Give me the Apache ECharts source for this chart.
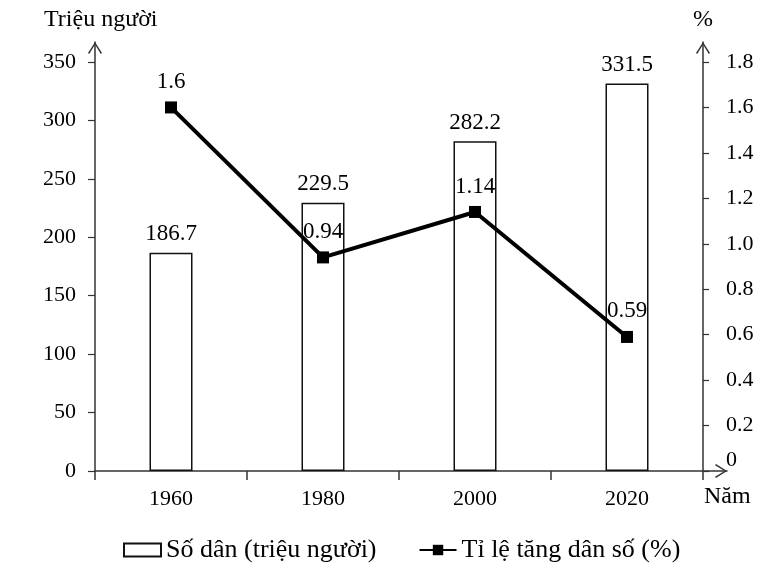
<!DOCTYPE html>
<html>
<head>
<meta charset="utf-8">
<script src="https://cdn.jsdelivr.net/npm/echarts@6/dist/echarts.min.js"></script>
<style>
	html, body { margin: 0; padding: 0; background: #fff; }
	#chart { width: 777px; height: 569px; }
</style>
</head>
<body>
<div id="chart"></div>
<script>
var years = ['1960', '1980', '2000', '2020'];
var soDan = [186.7, 229.5, 282.2, 331.5];
var tiLe = [1.6, 0.94, 1.14, 0.59];
var leftTicks = [0, 50, 100, 150, 200, 250, 300, 350];
var rightTicks = [0, 0.2, 0.4, 0.6, 0.8, 1.0, 1.2, 1.4, 1.6, 1.8];

var font = 'Liberation Serif';
var axisColor = '#333';
// mui ten ho (chevron) cho dau truc
var arrow = 'path://M7,0 L14,11 L12.8,12 L7,2.4 L1.2,12 L0,11 Z';

var myChart = echarts.init(document.getElementById('chart'));
myChart.setOption({
	animation: false,
	textStyle: { fontFamily: font, color: '#000' },
	title: [
		{ text: 'Triệu người', left: 44, top: 8, padding: 0,
			textStyle: { fontFamily: font, fontSize: 24, fontWeight: 'normal', color: '#000' } },
		{ text: '%', left: 693, top: 8, padding: 0,
			textStyle: { fontFamily: font, fontSize: 24, fontWeight: 'normal', color: '#000' } },
		{ text: 'Năm', left: 704, top: 485, padding: 0,
			textStyle: { fontFamily: font, fontSize: 24, fontWeight: 'normal', color: '#000' } }
	],
	legend: {
		left: 118,
		top: 532,
		itemWidth: 37,
		itemHeight: 13,
		itemGap: 42,
		textStyle: { fontFamily: font, fontSize: 26, color: '#000' },
		data: [
			{ name: 'Số dân (triệu người)', icon: 'rect' },
			{ name: 'Tỉ lệ tăng dân số (%)' }
		]
	},
	grid: [
		{ left: 95, right: 74, top: 42, bottom: 98 },
		{ left: 95, right: 50, top: 42, bottom: 98 }
	],
	xAxis: [
		{
			type: 'category',
			gridIndex: 0,
			data: years,
			axisLine: { show: false },
			axisTick: { show: true, length: 9, lineStyle: { color: axisColor, width: 1.5 } },
			axisLabel: { fontFamily: font, fontSize: 22, color: '#000', margin: 17 }
		},
		{
			type: 'value',
			gridIndex: 1,
			min: 0,
			max: 1,
			axisLine: {
				show: true, onZero: false,
				symbol: ['none', arrow], symbolSize: [14, 12], symbolOffset: [0, -6],
				lineStyle: { color: axisColor, width: 1.5 }
			},
			axisTick: { show: false },
			axisLabel: { show: false },
			splitLine: { show: false }
		}
	],
	yAxis: [
		{
			type: 'value',
			gridIndex: 0,
			min: 0,
			max: 350 * 429 / 409,
			interval: 50,
			axisLine: {
				show: true,
				symbol: ['none', arrow], symbolSize: [14, 12], symbolOffset: [0, -6],
				lineStyle: { color: axisColor, width: 1.5 }
			},
			axisTick: { show: true, length: 7, customValues: leftTicks,
				lineStyle: { color: axisColor, width: 1.2 } },
			axisLabel: { customValues: leftTicks, fontFamily: font, fontSize: 22, color: '#000', margin: 19 },
			splitLine: { show: false }
		},
		{
			type: 'value',
			gridIndex: 0,
			position: 'right',
			min: 0,
			max: 1.8 * 429 / 409,
			interval: 0.2,
			axisLine: {
				show: true,
				symbol: ['none', arrow], symbolSize: [14, 12], symbolOffset: [0, -6],
				lineStyle: { color: axisColor, width: 1.5 }
			},
			axisTick: { show: true, length: 6, customValues: rightTicks,
				lineStyle: { color: axisColor, width: 1.2 } },
			axisLabel: {
				customValues: rightTicks,
				fontFamily: font, fontSize: 22, color: '#000', margin: 23,
				formatter: function(v) {
					return v === 0 ? '{z|0}' : v.toFixed(1);
				},
				rich: { z: { fontFamily: font, fontSize: 22, color: '#000', padding: [0, 0, 22, 0] } }
			},
			splitLine: { show: false }
		},
		{
			type: 'value',
			gridIndex: 1,
			min: 0,
			max: 1,
			show: false
		}
	],
	series: [
		{
			name: 'Số dân (triệu người)',
			type: 'bar',
			xAxisIndex: 0,
			yAxisIndex: 0,
			barWidth: 43,
			data: soDan,
			itemStyle: { color: '#fff', borderColor: '#111', borderWidth: 1.5 },
			label: { show: true, position: 'top', distance: 7,
				fontFamily: font, fontSize: 23, color: '#000' }
		},
		{
			name: 'Tỉ lệ tăng dân số (%)',
			type: 'line',
			xAxisIndex: 0,
			yAxisIndex: 1,
			data: tiLe,
			symbol: 'rect',
			symbolSize: 12,
			lineStyle: { color: '#000', width: 4 },
			itemStyle: { color: '#000' },
			label: { show: true, position: 'top', distance: 8,
				fontFamily: font, fontSize: 23, color: '#000' },
			z: 5
		}
	]
});
</script>
</body>
</html>
